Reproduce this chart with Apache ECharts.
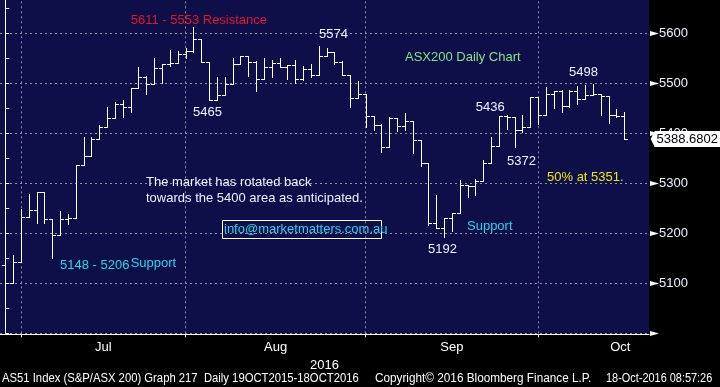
<!DOCTYPE html>
<html><head><meta charset="utf-8">
<script src="https://cdn.jsdelivr.net/npm/echarts@6/dist/echarts.min.js"></script>
<style>html,body{margin:0;padding:0;background:#000}#c{width:720px;height:387px}</style>
</head><body><div id="c"></div>
<script>
// Trading days (AS51 daily bars)
const dates = [
 '2016-06-29','2016-06-30',
 '2016-07-01','2016-07-04','2016-07-05','2016-07-06','2016-07-07','2016-07-08','2016-07-11','2016-07-12','2016-07-13','2016-07-14','2016-07-15',
 '2016-07-18','2016-07-19','2016-07-20','2016-07-21','2016-07-22','2016-07-25','2016-07-26','2016-07-27','2016-07-28','2016-07-29',
 '2016-08-01','2016-08-02','2016-08-03','2016-08-04','2016-08-05','2016-08-08','2016-08-09','2016-08-10','2016-08-11','2016-08-12',
 '2016-08-15','2016-08-16','2016-08-17','2016-08-18','2016-08-19','2016-08-22','2016-08-23','2016-08-24','2016-08-25','2016-08-26',
 '2016-08-29','2016-08-30','2016-08-31',
 '2016-09-01','2016-09-02','2016-09-05','2016-09-06','2016-09-07','2016-09-08','2016-09-09','2016-09-12','2016-09-13','2016-09-14',
 '2016-09-15','2016-09-16','2016-09-19','2016-09-20','2016-09-21','2016-09-22','2016-09-23','2016-09-26','2016-09-27','2016-09-28',
 '2016-09-29','2016-09-30',
 '2016-10-03','2016-10-04','2016-10-05','2016-10-06','2016-10-07','2016-10-10','2016-10-11','2016-10-12','2016-10-13','2016-10-14',
 '2016-10-17','2016-10-18'
];
const opens = [
 5137,5101,
 5143,5232,5247,5282,5228,5196,5228,5230,5336,5354,5388,
 5412,5430,5458,5452,5490,5513,5498,5531,5539,5540,
 5559,5564,5588,5542,5466,5476,5498,5538,5555,5543,
 5508,5532,5540,5532,5537,5508,5528,5517,5555,5563,
 5543,5517,5470,
 5479,5434,5416,5373,5431,5414,5424,5386,5341,5220,
 5210,5230,5241,5297,5295,5305,5341,5375,5434,5432,
 5407,5412,
 5473,5436,5478,5485,5454,5485,5468,5476,5479,5474,
 5436,5435
];
const highs = [
 5137,5157,
 5249,5279,5282,5282,5228,5245,5239,5336,5393,5393,5417,
 5453,5462,5467,5490,5533,5514,5551,5539,5567,5565,
 5571,5612,5588,5542,5512,5513,5550,5555,5555,5544,
 5550,5547,5550,5537,5547,5535,5539,5575,5570,5563,
 5544,5517,5504,
 5479,5434,5418,5432,5431,5440,5424,5386,5341,5277,
 5230,5241,5307,5297,5308,5346,5393,5434,5437,5433,
 5437,5473,
 5473,5492,5485,5486,5487,5494,5497,5499,5479,5474,
 5448,5442
];
const lows = [
 5052,5101,
 5143,5232,5220,5221,5150,5196,5218,5230,5336,5354,5388,
 5412,5430,5433,5443,5490,5479,5498,5500,5535,5540,
 5550,5563,5542,5466,5466,5476,5498,5538,5515,5485,
 5508,5513,5532,5509,5501,5507,5512,5517,5555,5539,
 5516,5453,5470,
 5412,5407,5363,5372,5405,5407,5360,5335,5217,5210,
 5193,5205,5241,5273,5277,5305,5341,5375,5409,5373,
 5402,5412,
 5418,5436,5450,5442,5453,5459,5468,5476,5436,5421,
 5432,5388
];
const closes = [
 5101,5143,
 5232,5247,5282,5228,5196,5228,5230,5336,5354,5388,5412,
 5430,5458,5452,5490,5513,5498,5531,5539,5540,5559,
 5564,5588,5542,5466,5476,5498,5538,5555,5543,5508,
 5532,5540,5532,5537,5508,5528,5517,5555,5563,5543,
 5517,5470,5479,
 5434,5416,5373,5431,5414,5424,5386,5341,5220,5210,
 5230,5241,5297,5295,5305,5341,5375,5434,5432,5407,
 5412,5473,
 5436,5478,5485,5454,5485,5468,5476,5479,5474,5436,
 5435,5388.6802
];
const yTickValues = [5000, 5100, 5200, 5300, 5400, 5500, 5600];
const monthStartIdx = [2, 23, 46, 68];
const monthLabelPos = [12.5, 34.5, 57, 78.5];
const monthNames = ['Jul', 'Aug', 'Sep', 'Oct'];
const lastPriceText = '5388.6802';

const ohlc = dates.map((d, i) => [i, opens[i], highs[i], lows[i], closes[i]]);

const xMin = -0.6765, xMax = 82.157;
const FONT = "'Liberation Sans', Arial, sans-serif";
const GRIDLINE = { type: [2, 3], color: '#9090aa', width: 1 };

function txt(text, x, cy, color, size) {
  return { type: 'text', x: x, y: cy, z: 50,
    style: { text: text, fill: color, font: (size || 13) + 'px ' + FONT, textVerticalAlign: 'middle' } };
}
function foot(text, x, sx) {
  return { type: 'text', x: x, y: 379, z: 50, scaleX: sx, originX: 0,
    style: { text: text, fill: '#ffffff', font: '12px ' + FONT, textVerticalAlign: 'middle' } };
}
const WHITE = '#eef2ff', CYAN = '#22d8ee';

const chart = echarts.init(document.getElementById('c'), null, { renderer: 'canvas' });
chart.setOption({
  animation: false,
  backgroundColor: '#000000',
  grid: { left: 0, right: 71, top: -16.7, height: 350, show: true, backgroundColor: '#0e0e48',
          borderWidth: 0, containLabel: false, outerBoundsMode: 'none' },
  xAxis: {
    type: 'value', min: xMin, max: xMax, offset: 1,
    axisLine: { show: true, lineStyle: { color: '#ffffff', width: 1 } },
    axisTick: { show: true, customValues: monthStartIdx, length: 3, lineStyle: { color: '#ffffff' } },
    axisLabel: { customValues: monthLabelPos, formatter: v => monthNames[monthLabelPos.indexOf(v)] || '',
      color: '#ffffff', fontSize: 13, margin: 7, fontFamily: FONT },
    splitLine: { show: false },
    name: '2016', nameLocation: 'middle', nameGap: 20,
    nameTextStyle: { color: '#ffffff', fontSize: 13, fontFamily: FONT }
  },
  yAxis: {
    type: 'value', position: 'right', min: 5000, max: 5700, interval: 100,
    axisLine: { show: true, lineStyle: { color: '#ffffff', width: 1 } },
    axisTick: { show: true, length: 4, lineStyle: { color: '#ffffff' } },
    minorTick: { show: true, splitNumber: 2, length: 4, lineStyle: { color: '#ffffff' } },
    axisLabel: { margin: 10, color: '#eef2ff', fontSize: 13, fontFamily: FONT,
      formatter: v => v === 5000 ? '' : String(v) },
    splitLine: { show: true, lineStyle: GRIDLINE }
  },
  series: [{
    type: 'custom',
    data: ohlc,
    encode: { x: 0, y: [1, 2, 3, 4] },
    renderItem: function (params, api) {
      const i = api.value(0);
      const o = api.coord([i, api.value(1)]);
      const h = api.coord([i, api.value(2)]);
      const l = api.coord([i, api.value(3)]);
      const c = api.coord([i, api.value(4)]);
      const hw = api.size([1, 0])[0] * 0.5;
      const px = Math.round(h[0]) + 0.5;
      const r = y => Math.round(y) + 0.5;
      const st = { stroke: '#ffffff', lineWidth: 1 };
      return { type: 'group', children: [
        { type: 'line', shape: { x1: px, y1: Math.round(h[1]), x2: px, y2: Math.round(l[1]) + 1 }, style: st },
        { type: 'line', shape: { x1: Math.round(px - hw), y1: r(o[1]), x2: px, y2: r(o[1]) }, style: st },
        { type: 'line', shape: { x1: px, y1: r(c[1]), x2: Math.round(px + hw), y2: r(c[1]) }, style: st }
      ] };
    },
    markLine: {
      silent: true, symbol: ['none', 'none'], label: { show: false }, z: 1,
      lineStyle: GRIDLINE,
      data: monthStartIdx.map(v => ({ xAxis: v }))
    },
    markPoint: {
      symbol: 'path://M0,8L4,0L70,0L70,16L4,16Z',
      symbolSize: [70, 16], symbolKeepAspect: false, symbolOffset: [36.7, 0],
      itemStyle: { color: '#ffffff' }, z: 20,
      label: { show: true, position: 'inside', formatter: lastPriceText, color: '#000000', fontSize: 13, fontFamily: FONT, offset: [1.5, 0] },
      data: [{ coord: [xMax, closes[closes.length - 1]] }]
    }
  }, {
    // axis tick arrows on the price scale
    type: 'custom', clip: false, silent: true, z: 10,
    data: yTickValues,
    encode: { y: 0 },
    renderItem: function (params, api) {
      const p = api.coord([xMax, api.value(0)]);
      const x = Math.round(p[0]) + 1, y = Math.round(p[1]) + 0.5;
      return { type: 'polygon', shape: { points: [[x, y - 2.5], [x + 9, y], [x, y + 2.5]] },
               style: { fill: '#ffffff' } };
    }
  }],
  graphic: [
    txt('5611 - 5553 Resistance', 130.7, 20.5, '#e8132b'),
    txt('5465', 193, 112.5, WHITE),
    txt('5574', 319, 34.5, WHITE),
    txt('ASX200 Daily Chart', 405, 57.5, '#86e486'),
    txt('5498', 569, 72.5, WHITE),
    txt('5436', 475.7, 107.5, WHITE),
    txt('5372', 507, 161, WHITE),
    txt('50% at 5351.', 547, 177.5, '#eaea10'),
    txt('The market has rotated back', 146, 182.5, WHITE),
    txt('towards the 5400 area as anticipated.', 146, 198, WHITE),
    { type: 'rect', z: 50, shape: { x: 222.5, y: 220.5, width: 159, height: 18 }, style: { fill: null, stroke: '#ffffff', lineWidth: 1 } },
    txt('info@marketmatters.com.au', 224, 229.5, CYAN),
    txt('5148 - 5206', 60, 265, CYAN),
    txt('Support', 130.7, 263, CYAN),
    txt('5192', 428, 249.5, WHITE),
    txt('Support', 467, 226.5, CYAN),
    foot('AS51 Index (S&P/ASX 200) Graph 217  Daily 19OCT2015-18OCT2016', 2, 0.94),
    foot('Copyright© 2016 Bloomberg Finance L.P.', 375, 0.98),
    foot('18-Oct-2016 08:57:26', 606, 0.91)
  ]
});
</script></body></html>
